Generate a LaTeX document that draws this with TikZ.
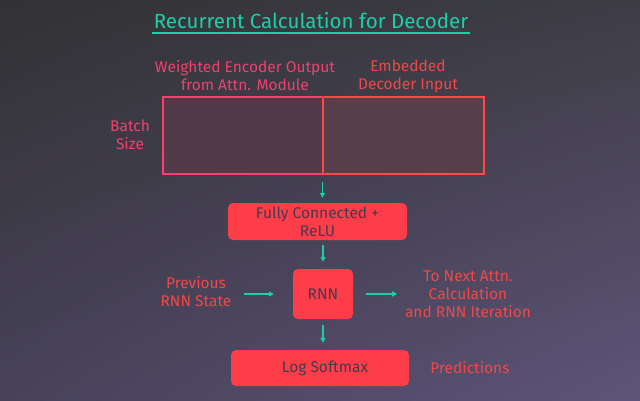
\documentclass[tikz,border=0pt]{standalone}
\usepackage{fontspec}
\setmainfont{Fira Sans}
\usetikzlibrary{arrows.meta,shadings}
\definecolor{teal1}{HTML}{1BCFA8}
\definecolor{pinktxt}{HTML}{F0406E}
\definecolor{redtxt}{HTML}{F04848}
\definecolor{boxred}{HTML}{FF3D48}
\definecolor{darktxt}{HTML}{463A50}
\definecolor{pinkline}{HTML}{FF3D6E}
\definecolor{redline}{HTML}{FF4848}
\definecolor{bgtl}{HTML}{323234}
\definecolor{bgtr}{HTML}{3E3D46}
\definecolor{bgbl}{HTML}{47425A}
\definecolor{bgbr}{HTML}{5E5479}
\definecolor{encfill}{HTML}{523A48}
\definecolor{embfill}{HTML}{573F4A}
\begin{document}
\begin{tikzpicture}[x=1pt,y=-1pt,
  lbl/.style={font=\fontsize{15.5}{18}\selectfont, align=center, inner sep=0pt},
  opbox/.style={rounded corners=5pt, fill=boxred, text=darktxt, font=\fontsize{15.5}{18}\selectfont, align=center, inner sep=0pt},
  flow/.style={draw=teal1, line width=1.3pt, -{Triangle[length=5pt,width=5pt]}}]
\useasboundingbox (0,0) rectangle (640,400);
\shade[upper left=bgtl, upper right=bgtr, lower left=bgbl, lower right=bgbr] (0,0) rectangle (640,400);
% title
\node[lbl, text=teal1, font=\fontsize{20.5}{22}\selectfont] (title) at (311,21) {Recurrent Calculation for Decoder};
\draw[teal1, line width=1.2pt] (152,33) -- (470,33);
% concatenated input
\node[draw=pinkline, line width=1.1pt, fill=encfill, minimum width=159.5pt, minimum height=77pt, inner sep=0pt] (enc) at (242.75,135.5) {};
\node[draw=redline, line width=1.1pt, fill=embfill, minimum width=161pt, minimum height=77pt, inner sep=0pt] (emb) at (403.5,135.5) {};
\node[lbl, text=pinktxt] (enclbl) at (245,76) {Weighted Encoder Output\\from Attn. Module};
\node[lbl, text=redtxt] (emblbl) at (408,76) {Embedded\\Decoder Input};
\node[lbl, text=pinktxt] (batch) at (130,135) {Batch\\Size};
% ops
\node[opbox, minimum width=179pt, minimum height=37pt] (fc) at (317.5,221.5) {Fully Connected +\\ReLU};
\node[opbox, minimum width=60pt, minimum height=50pt] (rnn) at (323,294) {RNN};
\node[opbox, minimum width=178pt, minimum height=36pt] (soft) at (320,368) {\hspace*{10pt}Log Softmax};
\node[lbl, text=redtxt] (prev) at (196,292) {Previous\\RNN State};
\node[lbl, text=redtxt] (next) at (468,294) {To Next Attn.\\Calculation\\and RNN Iteration};
\node[lbl, text=redtxt] (pred) at (470,368) {Predictions};
% arrows
\draw[flow] ([yshift=-7pt]emb.south west) -- ([yshift=5pt]emb.south west |- fc.north);
\draw[flow] ([yshift=-5pt]fc.south -| rnn.north) -- ([yshift=7pt]rnn.north);
\draw[flow] ([xshift=-49pt]rnn.west) -- ([xshift=-19pt]rnn.west);
\draw[flow] ([xshift=13pt]rnn.east) -- ([xshift=44pt]rnn.east);
\draw[flow] ([yshift=-6pt]rnn.south) -- ([yshift=7pt]soft.north -| rnn.south);
\end{tikzpicture}
\end{document}
